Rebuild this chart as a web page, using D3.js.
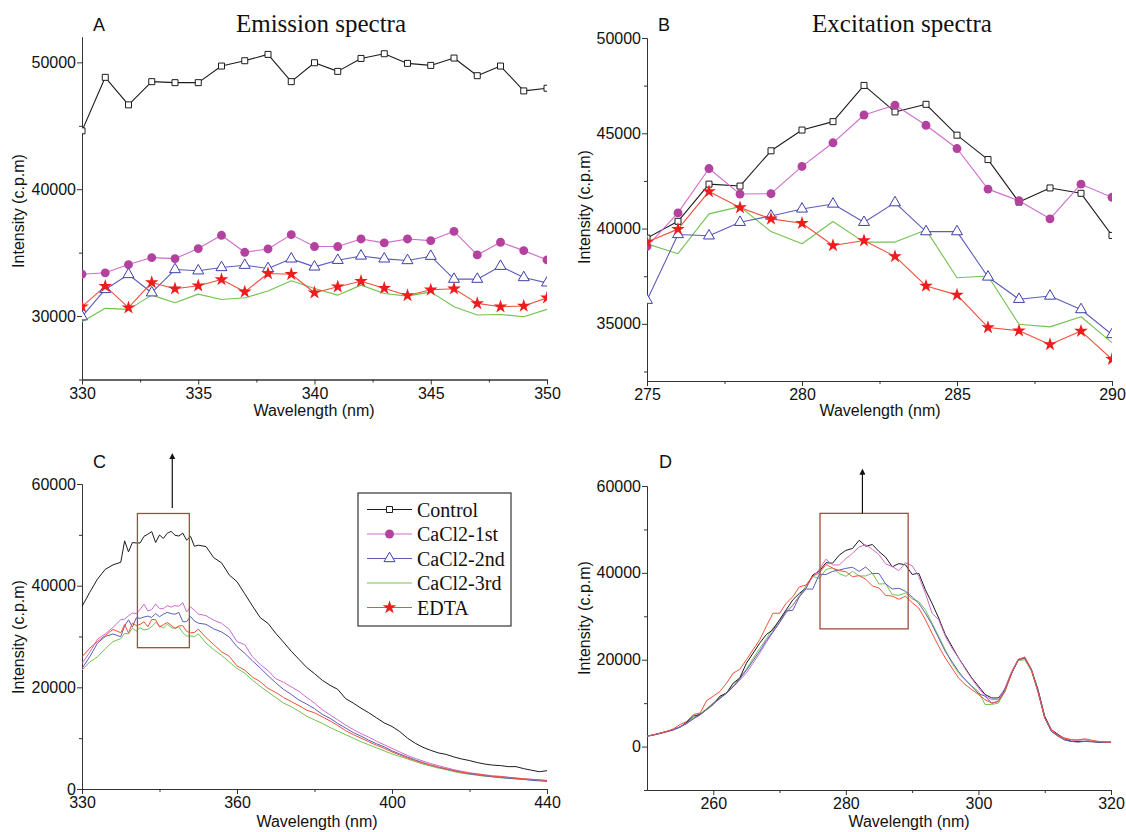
<!DOCTYPE html>
<html>
<head>
<meta charset="utf-8">
<script src="https://cdn.jsdelivr.net/npm/d3@7"></script>
<style>
  body { margin: 0; background: #ffffff; }
  svg { display: block; }
</style>
</head>
<body>
<div id="chart"></div>
<script>
// DATA

var seriesNames = ["Control", "CaCl2-1st", "CaCl2-2nd", "CaCl2-3rd", "EDTA"];

// A - emission spectra, 330-350 nm
var aX = d3.range(330, 351);
var aControl = [44600, 48820, 46650, 48480, 48400, 48400, 49710, 50130, 50630, 48480, 49970, 49290, 50310, 50680, 49920, 49760, 50340, 48950, 49710, 47750, 47960];
var aFirst = [33300, 33410, 34060, 34610, 34530, 35320, 36370, 35030, 35290, 36420, 35480, 35480, 36080, 35770, 36080, 35950, 36680, 34820, 35820, 35160, 34430];
var aSecond = [29950, 32100, 33280, 31840, 33670, 33570, 33830, 34010, 33750, 34510, 33880, 34400, 34740, 34510, 34380, 34720, 32910, 32910, 33930, 33040, 32620];
var aThird = [29560, 30610, 30530, 31650, 31050, 31730, 31310, 31440, 31970, 32780, 32180, 31650, 32440, 31780, 31570, 31910, 30740, 30080, 30130, 29950, 30530];
var aEdta = [30740, 32360, 30660, 32650, 32150, 32390, 32880, 31910, 33360, 33300, 31840, 32310, 32750, 32200, 31620, 32070, 32150, 31000, 30740, 30790, 31440];

// B - excitation spectra, 275-290 nm
var bX = d3.range(275, 291);
var bControl = [39500, 40380, 42330, 42230, 44080, 45170, 45610, 47510, 46120, 46520, 44900, 43620, 41390, 42130, 41850, 39640];
var bFirst = [39060, 40820, 43150, 41810, 41830, 43260, 44500, 45960, 46480, 45420, 44200, 42070, 41460, 40510, 42330, 41640];
var bSecond = [36240, 39690, 39620, 40330, 40660, 41030, 41290, 40330, 41360, 39840, 39840, 37460, 36290, 36460, 35750, 34440];
var bThird = [39200, 38680, 40770, 41150, 39840, 39200, 40370, 39290, 39290, 39930, 37420, 37510, 34980, 34840, 35370, 34010];
var bEdta = [39290, 39970, 41950, 41100, 40510, 40280, 39110, 39370, 38540, 36990, 36520, 34810, 34640, 33920, 34620, 33140];

// C - full emission scan (the 330-350 part is panel A)
var cXLow = d3.range(320, 330, 2);
var cXHigh = d3.range(352, 441, 2);
var cControlLow = [35900, 38700, 41300, 43200, 44100];
var cControlHigh = [47700, 45500, 44500, 42100, 40790, 38400, 36000, 33700, 32590, 30620,
  28900, 27100, 25500, 23900, 22700, 21400, 20400, 19600, 17800, 16900,
  15900, 15000, 14000, 13000, 12300, 11300, 10000, 9000, 8200, 7600,
  7100, 6800, 6300, 5900, 5600, 5200, 4900, 4700, 4600, 4400,
  4400, 4000, 3700, 3400, 3600];
var cFirstLow = [24700, 26900, 29500, 30500, 31800];
var cFirstHigh = [34100, 33200, 32600, 31400, 29000, 28400, 26000, 24500, 23300, 21700,
  21000, 20100, 19200, 18000, 16900, 15600, 14600, 13600, 12600, 11700,
  10900, 10200, 9400, 8700, 8000, 7300, 6600, 6000, 5500, 5000,
  4600, 4200, 3800, 3500, 3200, 3000, 2800, 2600, 2500, 2300,
  2200, 2000, 1900, 1800, 1600];
var cSecondLow = [23700, 26000, 28700, 30000, 30500];
var cSecondHigh = [32400, 31500, 30900, 29900, 28000, 26700, 25200, 23800, 22300, 20900,
  19600, 18600, 17500, 16700, 15800, 14700, 13900, 12900, 12000, 11100,
  10400, 9600, 8900, 8300, 7500, 6900, 6300, 5700, 5200, 4700,
  4300, 3900, 3600, 3300, 3000, 2800, 2600, 2400, 2300, 2100,
  2000, 1900, 1700, 1600, 1500];
var cThirdLow = [23400, 25000, 26000, 27600, 29000];
var cThirdHigh = [28700, 27400, 26300, 25000, 23700, 22800, 21400, 20200, 19100, 18000,
  16900, 16200, 15300, 14300, 13600, 12900, 12100, 11400, 10700, 10000,
  9300, 8700, 8100, 7500, 6900, 6400, 5900, 5400, 4900, 4500,
  4100, 3800, 3400, 3100, 2900, 2700, 2500, 2400, 2200, 2100,
  2000, 1900, 1800, 1700, 1600];
var cEdtaLow = [26000, 27700, 29000, 30200, 31400];
var cEdtaHigh = [29800, 28400, 27000, 26100, 24200, 23400, 22000, 21100, 19800, 19000,
  18000, 17200, 16400, 15500, 15000, 14200, 13400, 12500, 11500, 10700,
  10000, 9300, 8600, 8000, 7300, 6700, 6100, 5600, 5100, 4700,
  4300, 4000, 3600, 3300, 3100, 2900, 2700, 2500, 2400, 2300,
  2100, 2000, 1900, 1800, 1700];

// D - full excitation scan (the 275-290 part is panel B)
var dXRise = d3.range(250, 275);
var dXTail = d3.range(291, 321);
var dControlRise = [2400, 2700, 3100, 3500, 3900, 4500, 5600, 7000, 7400, 8500, 9700, 11600, 12300, 14600, 15800, 19200, 21500, 23800, 25800, 26900, 29200, 31500, 33800, 35300, 36500];
var dControlTail = [39900, 36100, 33000, 29600, 25800, 23100, 20400, 18100, 15800, 13900, 12000, 11200, 11200, 13100, 16900, 20000, 20400, 17700, 13100, 7000, 3900, 2800, 1800, 1200, 1200, 1200, 1200, 1000, 1000, 1000];
var dFirstRise = [2400, 2700, 3050, 3450, 3900, 4550, 5350, 6400, 7300, 8500, 9900, 11000, 12300, 13700, 15300, 17000, 19200, 21500, 24000, 26300, 28500, 30800, 32500, 34600, 36600];
var dFirstTail = [39200, 35300, 30700, 29200, 25400, 22700, 20400, 17900, 15600, 13500, 11700, 10800, 10800, 13500, 17300, 20100, 20600, 17700, 12700, 6600, 3800, 2500, 1800, 1500, 1500, 1600, 1200, 1200, 1000, 1000];
var dSecondRise = [2400, 2650, 3000, 3400, 3850, 4500, 5300, 6400, 7300, 8600, 9900, 11100, 12300, 13800, 15600, 17600, 19800, 22000, 24400, 26500, 28600, 31200, 31400, 34500, 36300];
var dSecondTail = [33000, 30700, 28100, 25000, 21900, 19600, 17300, 15400, 13900, 12200, 11600, 10000, 10400, 13100, 16800, 20000, 20400, 17700, 12700, 6600, 3500, 2400, 1500, 1200, 1000, 1200, 1100, 1000, 1000, 1000];
var dThirdRise = [2400, 2700, 3100, 3500, 3950, 4600, 5500, 6600, 7500, 8700, 10100, 11300, 12500, 14000, 15900, 17800, 20300, 22600, 24800, 27300, 29000, 31200, 32600, 34800, 37000];
var dThirdTail = [33400, 31500, 28400, 25400, 22300, 19200, 16900, 15400, 13900, 12700, 9700, 9700, 10000, 12700, 16800, 19800, 20000, 17300, 12500, 6600, 3500, 2400, 1600, 1200, 1200, 1200, 1200, 1100, 1000, 1000];
var dEdtaRise = [2400, 2700, 3100, 3500, 4100, 5100, 5800, 7400, 7700, 10600, 11600, 12700, 14600, 16900, 17800, 20000, 22300, 24600, 27700, 30700, 30700, 33000, 34500, 36800, 37200];
var dEdtaTail = [31900, 29200, 26100, 23100, 20400, 18100, 15800, 14300, 13100, 12000, 10800, 10000, 10400, 12700, 16900, 20000, 20600, 17700, 12500, 6600, 3900, 2500, 2000, 1600, 1500, 1800, 1500, 1200, 1100, 1000];

// tick values / labels
var aXTicks = [330, 335, 340, 345, 350];
var aYTicks = [30000, 40000, 50000];
var bXTicks = [275, 280, 285, 290];
var bYTicks = [35000, 40000, 45000, 50000];
var cXTicks = [320, 360, 400, 440];
var cXTickLabels = ["330", "360", "400", "440"];
var cYTicks = [0, 20000, 40000, 60000];
var dXTicks = [260, 280, 300, 320];
var dYTicks = [0, 20000, 40000, 60000];

// highlighted windows in C and D (data units)
var cBoxX = [334.3, 347.7], cBoxY = [27800, 54200], cArrowX = 343.3, cArrowY = [55300, 65500];
var dBoxX = [276.1, 289.4], dBoxY = [27100, 53700], dArrowX = 282.5, dArrowY = [53700, 63300];

// STYLES
var looks = [
  { line: "#1c1c1c", symbol: d3.symbolSquare, size: 36, fill: "#ffffff", stroke: "#1c1c1c" },
  { line: "#cf6ccb", symbol: d3.symbolCircle, size: 62, fill: "#b3429f", stroke: "none" },
  { line: "#5d5db9", symbol: d3.symbolTriangle, size: 52, fill: "#ffffff", stroke: "#3f3fab" },
  { line: "#72c34f", symbol: null },
  { line: "#f24f3c", symbol: d3.symbolStar, size: 58, fill: "#ee1d1d", stroke: "none" }
];
var sansFont = "'Liberation Sans', Arial, sans-serif";
var serifFont = "'Liberation Serif', 'Times New Roman', serif";

var svg = d3
  .select("#chart")
  .append("svg")
  .attr("width", 1126)
  .attr("height", 832);

svg.append("defs")
  .append("marker")
  .attr("id", "arrowhead")
  .attr("viewBox", "0 0 8 8")
  .attr("refX", 4)
  .attr("refY", 4)
  .attr("markerWidth", 5)
  .attr("markerHeight", 5)
  .attr("orient", "auto")
  .append("path")
  .attr("d", "M0,0 L8,4 L0,8 Z")
  .attr("fill", "#111");

function styleAxis(sel) {
  sel.attr("font-family", sansFont).attr("font-size", 16);
  sel.selectAll("path, line").attr("stroke", "#333").attr("stroke-width", 1);
  sel.selectAll("text").attr("fill", "#111");
}

function drawPanel(cfg) {
  var x = d3.scaleLinear().domain(cfg.xDomain).range([cfg.left, cfg.right]);
  var y = d3.scaleLinear().domain(cfg.yDomain).range([cfg.bottom, cfg.top]);
  var g = svg.append("g");

  g.append("clipPath")
    .attr("id", "clip-" + cfg.id)
    .append("rect")
    .attr("x", cfg.left)
    .attr("y", cfg.top - 30)
    .attr("width", cfg.right - cfg.left)
    .attr("height", cfg.bottom - cfg.top + 30);

  // minor ticks first, then labelled axes
  g.append("g")
    .attr("transform", "translate(0," + cfg.bottom + ")")
    .call(d3.axisBottom(x).tickValues(cfg.xMinor).tickSize(3).tickSizeOuter(0).tickFormat(""))
    .call(styleAxis);
  g.append("g")
    .attr("transform", "translate(" + cfg.left + ",0)")
    .call(d3.axisLeft(y).tickValues(cfg.yMinor).tickSize(3).tickSizeOuter(0).tickFormat(""))
    .call(styleAxis);

  var xAxis = d3.axisBottom(x).tickValues(cfg.xTicks).tickSize(5).tickSizeOuter(0);
  if (cfg.xLabels) {
    xAxis.tickFormat(function (d, i) { return cfg.xLabels[i]; });
  } else {
    xAxis.tickFormat(d3.format("d"));
  }
  g.append("g")
    .attr("transform", "translate(0," + cfg.bottom + ")")
    .call(xAxis)
    .call(styleAxis);

  g.append("g")
    .attr("transform", "translate(" + cfg.left + ",0)")
    .call(d3.axisLeft(y).tickValues(cfg.yTicks).tickSize(5).tickPadding(1).tickSizeOuter(0).tickFormat(d3.format("d")))
    .call(styleAxis);

  // axis titles
  g.append("text")
    .attr("x", cfg.xTitleX)
    .attr("y", cfg.xTitleY)
    .attr("text-anchor", "middle")
    .attr("font-family", sansFont)
    .attr("font-size", 16)
    .attr("fill", "#111")
    .text("Wavelength (nm)");
  g.append("text")
    .attr("transform", "translate(" + cfg.yTitleX + "," + cfg.yTitleY + ") rotate(-90)")
    .attr("text-anchor", "middle")
    .attr("font-family", sansFont)
    .attr("font-size", 16)
    .attr("fill", "#111")
    .text("Intensity (c.p.m)");

  // panel letter
  g.append("text")
    .attr("x", cfg.letterX)
    .attr("y", cfg.letterY)
    .attr("font-family", sansFont)
    .attr("font-size", 18)
    .attr("fill", "#111")
    .text(cfg.letter);

  if (cfg.title) {
    g.append("text")
      .attr("x", cfg.titleX)
      .attr("y", cfg.titleY)
      .attr("text-anchor", "middle")
      .attr("font-family", serifFont)
      .attr("font-size", 25)
      .attr("fill", "#111")
      .text(cfg.title);
  }

  var plot = g.append("g").attr("clip-path", "url(#clip-" + cfg.id + ")");

  var line = d3
    .line()
    .x(function (d, i) { return x(cfg.xs[i]); })
    .y(function (d) { return y(d); });

  // draw green first so the marked series sit on top
  var order = [3, 0, 1, 2, 4];
  order.forEach(function (k) {
    plot.append("path")
      .datum(cfg.series[k])
      .attr("d", line)
      .attr("fill", "none")
      .attr("stroke", looks[k].line)
      .attr("stroke-width", cfg.markers ? 1.1 : 1)
      .attr("stroke-linejoin", "round");
  });

  if (cfg.markers) {
    order.forEach(function (k) {
      if (!looks[k].symbol) return;
      plot.selectAll(".m" + k)
        .data(cfg.series[k])
        .enter()
        .append("path")
        .attr("class", "m" + k)
        .attr("transform", function (d, i) {
          return "translate(" + x(cfg.xs[i]) + "," + y(d) + ")";
        })
        .attr("d", d3.symbol().type(looks[k].symbol).size(looks[k].size))
        .attr("fill", looks[k].fill)
        .attr("stroke", looks[k].stroke)
        .attr("stroke-width", 1);
    });
  }

  if (cfg.box) {
    g.append("rect")
      .attr("x", x(cfg.box.x[0]))
      .attr("y", y(cfg.box.y[1]))
      .attr("width", x(cfg.box.x[1]) - x(cfg.box.x[0]))
      .attr("height", y(cfg.box.y[0]) - y(cfg.box.y[1]))
      .attr("fill", "none")
      .attr("stroke", "#a24b3e")
      .attr("stroke-width", 1.3);
    g.append("line")
      .attr("x1", x(cfg.box.arrowX))
      .attr("x2", x(cfg.box.arrowX))
      .attr("y1", y(cfg.box.arrowY[0]))
      .attr("y2", y(cfg.box.arrowY[1]))
      .attr("stroke", "#111")
      .attr("stroke-width", 1.2)
      .attr("marker-end", "url(#arrowhead)");
  }
  return { x: x, y: y };
}

drawPanel({
  id: "A", left: 82, right: 547, top: 37, bottom: 379.5,
  xDomain: [330, 350], yDomain: [25000, 52000],
  xTicks: aXTicks, xMinor: d3.range(332.5, 350, 5),
  yTicks: aYTicks, yMinor: [25000, 35000, 45000],
  xs: aX, series: [aControl, aFirst, aSecond, aThird, aEdta], markers: true,
  xTitleX: 314, xTitleY: 416, yTitleX: 24, yTitleY: 211,
  letter: "A", letterX: 93, letterY: 31, title: "Emission spectra", titleX: 321, titleY: 32
});

drawPanel({
  id: "B", left: 647, right: 1112, top: 38, bottom: 381,
  xDomain: [275, 290], yDomain: [32000, 50000],
  xTicks: bXTicks, xMinor: d3.range(277.5, 290, 5),
  yTicks: bYTicks, yMinor: [32500, 37500, 42500, 47500],
  xs: bX, series: [bControl, bFirst, bSecond, bThird, bEdta], markers: true,
  xTitleX: 880, xTitleY: 416, yTitleX: 590, yTitleY: 207,
  letter: "B", letterX: 658, letterY: 31, title: "Excitation spectra", titleX: 902, titleY: 32
});

var cX = cXLow.concat(aX, cXHigh);
drawPanel({
  id: "C", left: 82, right: 547, top: 484, bottom: 789,
  xDomain: [320, 440], yDomain: [0, 60000],
  xTicks: cXTicks, xLabels: cXTickLabels, xMinor: [340, 380, 420],
  yTicks: cYTicks, yMinor: [10000, 30000, 50000],
  xs: cX,
  series: [
    cControlLow.concat(aControl, cControlHigh),
    cFirstLow.concat(aFirst, cFirstHigh),
    cSecondLow.concat(aSecond, cSecondHigh),
    cThirdLow.concat(aThird, cThirdHigh),
    cEdtaLow.concat(aEdta, cEdtaHigh)
  ],
  markers: false,
  box: { x: cBoxX, y: cBoxY, arrowX: cArrowX, arrowY: cArrowY },
  xTitleX: 317, xTitleY: 827, yTitleX: 24, yTitleY: 637,
  letter: "C", letterX: 93, letterY: 468
});

var dX = dXRise.concat(bX, dXTail);
drawPanel({
  id: "D", left: 647, right: 1111, top: 486, bottom: 790,
  xDomain: [250, 320], yDomain: [-10000, 60000],
  xTicks: dXTicks, xMinor: [270, 290, 310],
  yTicks: dYTicks, yMinor: [-10000, 10000, 30000, 50000],
  xs: dX,
  series: [
    dControlRise.concat(bControl, dControlTail),
    dFirstRise.concat(bFirst, dFirstTail),
    dSecondRise.concat(bSecond, dSecondTail),
    dThirdRise.concat(bThird, dThirdTail),
    dEdtaRise.concat(bEdta, dEdtaTail)
  ],
  markers: false,
  box: { x: dBoxX, y: dBoxY, arrowX: dArrowX, arrowY: dArrowY },
  xTitleX: 909, xTitleY: 827, yTitleX: 590, yTitleY: 618,
  letter: "D", letterX: 659, letterY: 468
});

// LEGEND (inside panel C)
var legend = svg.append("g").attr("transform", "translate(358,493)");
legend.append("rect")
  .attr("width", 153)
  .attr("height", 133)
  .attr("fill", "#fff")
  .attr("stroke", "#444")
  .attr("stroke-width", 1.3);

seriesNames.forEach(function (name, k) {
  var row = legend.append("g").attr("transform", "translate(0," + (16.5 + k * 24.5) + ")");
  row.append("line")
    .attr("x1", 9)
    .attr("x2", 54)
    .attr("stroke", looks[k].line)
    .attr("stroke-width", 1.1);
  if (looks[k].symbol) {
    row.append("path")
      .attr("transform", "translate(31.5,0)")
      .attr("d", d3.symbol().type(looks[k].symbol).size(looks[k].size))
      .attr("fill", looks[k].fill)
      .attr("stroke", looks[k].stroke);
  }
  row.append("text")
    .attr("x", 59)
    .attr("dy", "0.35em")
    .attr("font-family", serifFont)
    .attr("font-size", 20)
    .attr("fill", "#111")
    .text(name);
});
</script>
</body>
</html>
